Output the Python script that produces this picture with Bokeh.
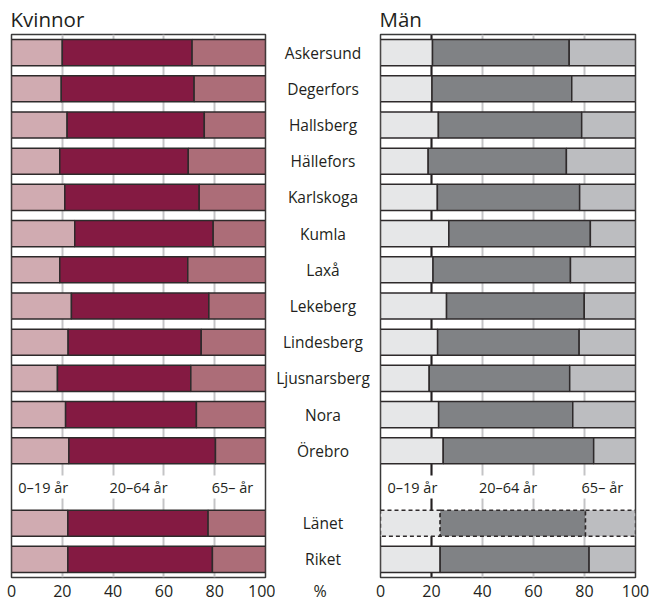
import numpy as np
from bokeh.plotting import figure
from bokeh.models import FactorRange, Range1d, FixedTicker, Span
from bokeh.layouts import row
from bokeh.embed import file_html
from bokeh.resources import INLINE
from bokeh.core.properties import value

categories = ["Askersund", "Degerfors", "Hallsberg", "Hällefors", "Karlskoga", "Kumla",
              "Laxå", "Lekeberg", "Lindesberg", "Ljusnarsberg", "Nora", "Örebro",
              "Länet", "Riket"]
age_groups = ["0–19 år", "20–64 år", "65– år"]

women_0_19 = [20.0, 19.6, 21.9, 19.0, 21.0, 24.9, 19.0, 23.6, 22.3, 18.1, 21.3, 22.6, 22.2, 22.2]
women_20_64 = [51.1, 52.3, 54.0, 50.6, 52.9, 54.5, 50.4, 54.1, 52.4, 52.5, 51.5, 57.7, 55.2, 56.9]
women_65 = [28.9, 28.1, 24.1, 30.4, 26.1, 20.6, 30.6, 22.3, 25.3, 29.4, 27.2, 19.7, 22.6, 20.9]

men_0_19 = [20.4, 20.2, 22.7, 18.7, 22.3, 26.8, 20.6, 25.9, 22.4, 19.1, 22.8, 24.6, 23.4, 23.4]
men_20_64 = [53.6, 54.8, 56.2, 54.2, 55.8, 55.5, 53.9, 54.0, 55.5, 55.1, 52.6, 59.0, 57.0, 58.4]
men_65 = [26.0, 25.0, 21.1, 27.1, 21.9, 17.7, 25.5, 20.1, 22.1, 25.8, 24.6, 16.4, 19.6, 18.2]

x_ticks = [0, 20, 40, 60, 80, 100]
legend_x = [12.5, 50, 87]

FONT = "Open Sans"
TXT = "#231f20"
GAP = " "
factors_top_down = categories[:12] + [GAP] + categories[12:]
FH = 543
BAR_H = 0.72


def style_common(p, title, standoff):
    p.title.text = title
    p.title.text_font = FONT
    p.title.text_font_size = "20.5px"
    p.title.text_font_style = "normal"
    p.title.text_color = TXT
    p.title.standoff = 3
    p.title.offset = -1
    p.xaxis.axis_line_color = None
    p.xaxis.major_tick_line_color = None
    p.xaxis.minor_tick_line_color = None
    p.xaxis.major_tick_out = 0
    p.xaxis.major_tick_in = 0
    p.xaxis.minor_tick_out = 0
    p.xaxis.major_label_standoff = standoff
    p.xaxis.major_label_text_font = FONT
    p.xaxis.major_label_text_font_size = "16px"
    p.xaxis.major_label_text_color = TXT


def new_fig(fw, x_range, bl, br):
    return figure(frame_width=fw, frame_height=FH, output_backend="svg", toolbar_location=None,
                  x_range=x_range, y_range=FactorRange(factors=factors_top_down[::-1], range_padding=0),
                  y_axis_location=None, min_border_left=bl, min_border_right=br,
                  min_border_top=34, min_border_bottom=24)


def make_panel(title, vals, colors, fw, bl, br, dashed_row=None, span20=False):
    p = new_fig(fw, Range1d(0, 100), bl, br)
    style_common(p, title, 7)
    p.outline_line_color = "#3a3a3a"
    p.outline_line_width = 1.5
    p.ygrid.grid_line_color = None
    p.xgrid.ticker = FixedTicker(ticks=[20, 40, 60, 80])
    p.xgrid.grid_line_color = "#c4c4c6"
    p.xgrid.grid_line_width = 2
    p.xaxis.ticker = FixedTicker(ticks=x_ticks)
    if span20:
        p.add_layout(Span(location=20, dimension="height", line_color="#231f20",
                          line_width=2, level="underlay"))
    a = np.array(vals[0]); b = np.array(vals[1]); c = np.array(vals[2])
    lefts = [np.zeros_like(a), a, a + b]
    rights = [a, a + b, a + b + c]
    idx_solid = [i for i in range(len(categories)) if categories[i] != dashed_row]
    idx_dash = [i for i in range(len(categories)) if categories[i] == dashed_row]
    for k in range(3):
        p.hbar(y=[categories[i] for i in idx_solid], left=[lefts[k][i] for i in idx_solid],
               right=[rights[k][i] for i in idx_solid], height=BAR_H,
               fill_color=colors[k], line_color="#2e2a2b", line_width=1.5)
        if idx_dash:
            p.hbar(y=[categories[i] for i in idx_dash], left=[lefts[k][i] for i in idx_dash],
                   right=[rights[k][i] for i in idx_dash], height=BAR_H,
                   fill_color=colors[k], line_color="#2e2a2b", line_width=1.5, line_dash="4 3")
    p.text(x=legend_x, y=[GAP] * 3, text=age_groups, text_align="center", text_baseline="middle",
           text_font=value(FONT), text_font_size="14.5px", text_color=TXT,
           background_fill_color="white", padding=2)
    return p


left = make_panel("Kvinnor", [women_0_19, women_20_64, women_65],
                  ["#d0abb1", "#841a42", "#ac6d78"], 254, 11, 10)
right = make_panel("Män", [men_0_19, men_20_64, men_65],
                   ["#e6e7e8", "#808285", "#bcbdc0"], 255, 10, 16,
                   dashed_row="Länet", span20=True)

mid = new_fig(95, Range1d(0, 1), 0, 0)
style_common(mid, "Kvinnor", 2)
mid.title.text_alpha = 0
mid.outline_line_color = None
mid.grid.grid_line_color = None
mid.xaxis.ticker = FixedTicker(ticks=[0.47])
mid.xaxis.major_label_overrides = {0.47: "%"}
mid.text(x=[0.5] * len(categories), y=categories, text=categories, text_align="center",
         text_baseline="middle", text_font=value(FONT), text_font_size="15.5px", text_color=TXT)

layout = row(left, mid, right)
open("out.html", "w").write(file_html(layout, INLINE))
